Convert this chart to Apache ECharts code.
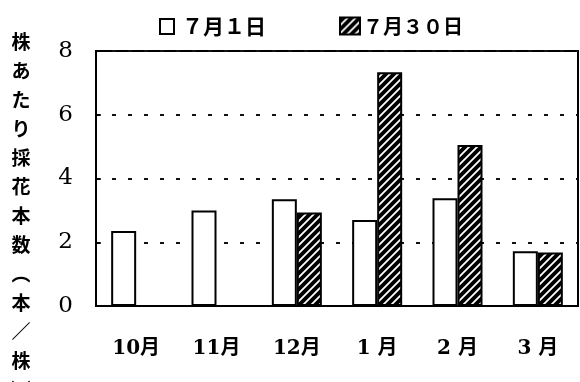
<!DOCTYPE html>
<html>
<head>
<meta charset="utf-8">
<script src="https://cdn.jsdelivr.net/npm/echarts@6/dist/echarts.min.js"></script>
<style>
  html, body { margin: 0; padding: 0; background: #fff; }
  #chart { width: 580px; height: 382px; }
</style>
</head>
<body>
<div id="chart"></div>
<script>
// Flowers harvested per plant, by month of harvest, for two planting dates
const categories = ['10月', '11月', '12月', '1 月', '2 月', '3 月'];
const seriesNames = ['７月１日', '７月３０日'];
const plantedJul1 = [2.35, 3.0, 3.35, 2.7, 3.38, 1.72];
const plantedJul30 = [null, null, 2.93, 7.33, 5.05, 1.68];
const yTitle = '株あたり採花本数︵本／株︶';

// diagonal white hatching on black for the second series
function hatchPattern() {
  const c = document.createElement('canvas');
  c.width = 8; c.height = 8;
  const g = c.getContext('2d');
  g.fillStyle = '#000';
  g.fillRect(0, 0, 8, 8);
  g.strokeStyle = '#fff';
  g.lineWidth = 1.8;
  g.beginPath();
  g.moveTo(0, 8); g.lineTo(8, 0);
  g.moveTo(-2, 2); g.lineTo(2, -2);
  g.moveTo(6, 10); g.lineTo(10, 6);
  g.stroke();
  return c;
}

const hatch = { image: hatchPattern(), repeat: 'repeat' };
const cjk = "'Noto Sans CJK JP', sans-serif";
const numFont = "'DejaVu Serif', 'Noto Sans CJK JP', serif";

const chart = echarts.init(document.getElementById('chart'), null, { renderer: 'canvas' });

chart.setOption({
  animation: false,
  backgroundColor: '#fff',
  grid: {
    left: 96, top: 51, right: 2, bottom: 76,
    show: true, borderColor: '#000', borderWidth: 2, backgroundColor: 'transparent'
  },
  legend: [
    {
      data: [seriesNames[0]],
      left: 159, top: 16, padding: 0,
      icon: 'rect', itemWidth: 14, itemHeight: 15,
      textStyle: { fontFamily: cjk, fontWeight: 'bold', fontSize: 21, color: '#000', padding: [0, 0, 0, 3] }
    },
    {
      data: [seriesNames[1]],
      left: 339, top: 16, padding: 0,
      icon: 'rect', itemWidth: 20, itemHeight: 17,
      textStyle: { fontFamily: cjk, fontWeight: 'bold', fontSize: 20, color: '#000', padding: [0, 0, 0, -2] }
    }
  ],
  xAxis: {
    type: 'category',
    data: categories,
    axisLine: { lineStyle: { color: '#000', width: 2 } },
    axisTick: { inside: true, length: 8, lineStyle: { color: '#000', width: 1.5 } },
    axisLabel: { margin: 33, color: '#000', fontFamily: numFont, fontWeight: 'bold', fontSize: 20 }
  },
  yAxis: {
    type: 'value',
    min: 0, max: 8, interval: 2,
    axisLine: { show: true, lineStyle: { color: '#000', width: 2 } },
    axisTick: { show: true, inside: true, length: 5, lineStyle: { color: '#000', width: 1.5 } },
    axisLabel: { margin: 23, color: '#000', fontFamily: numFont, fontSize: 23 },
    splitLine: { show: true, lineStyle: { color: '#111', width: 2, type: [4, 12] } }
  },
  series: [
    {
      name: seriesNames[0],
      type: 'bar',
      data: plantedJul1,
      barWidth: 25,
      barGap: '0%',
      itemStyle: { color: '#fff', borderColor: '#000', borderWidth: 2 }
    },
    {
      name: seriesNames[1],
      type: 'bar',
      data: plantedJul30,
      barWidth: 25,
      barGap: '0%',
      itemStyle: { color: hatch, borderColor: '#000', borderWidth: 2 }
    }
  ],
  graphic: [
    {
      type: 'text',
      x: 21, y: 27,
      style: {
        text: yTitle.split('').join('\n'),
        fontFamily: cjk, fontWeight: 'bold', fontSize: 19,
        lineHeight: 29, fill: '#000', align: 'center', verticalAlign: 'top'
      }
    }
  ]
});
</script>
</body>
</html>
